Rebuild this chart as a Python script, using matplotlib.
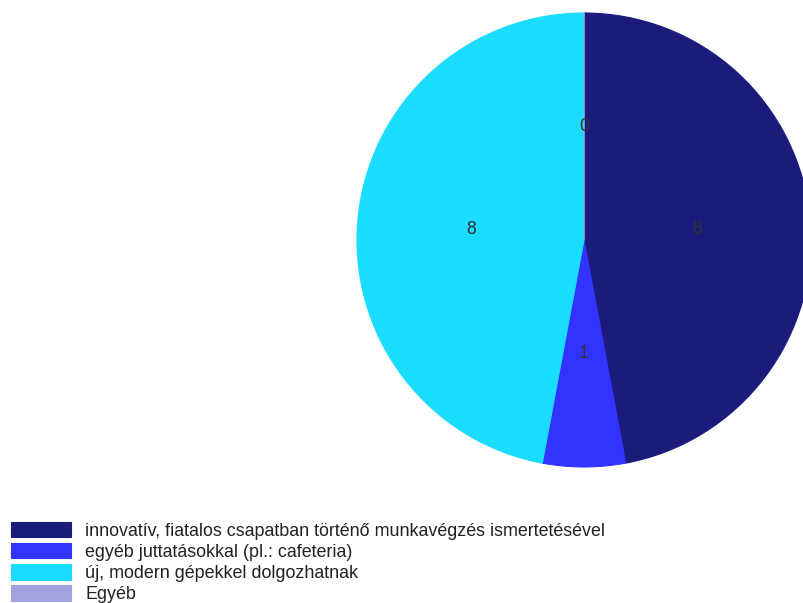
import matplotlib
matplotlib.use("Agg")
import matplotlib.pyplot as plt

labels = [
    "innovatív, fiatalos csapatban történő munkavégzés ismertetésével",
    "egyéb juttatásokkal (pl.: cafeteria)",
    "új, modern gépekkel dolgozhatnak",
    "Egyéb",
]
values = [8, 1, 8, 0]
colors = ["#1b1b7b", "#3333ff", "#1adcff", "#a3a3e0"]

plt.rcParams['font.family'] = ['Liberation Sans', 'DejaVu Sans']

W, H = 804, 603
fig = plt.figure(figsize=(W / 100, H / 100), dpi=100)

cx, cy, r = 584, 240, 227
ax = fig.add_axes([(cx - r) / W, (H - cy - r) / H, 2 * r / W, 2 * r / H])
wedges, texts = ax.pie(
    values, colors=colors, startangle=90, counterclock=False,
    labels=[str(v) for v in values], labeldistance=0.5,
    textprops=dict(color="#333333", fontsize=12.7, ha="center", va="center"),
    radius=1.0,
)
for w, c in zip(wedges, colors):
    w.set_edgecolor(c)
    w.set_linewidth(0.8)
ax.set_xlim(-1, 1)
ax.set_ylim(-1, 1)
ax.set_aspect('equal')
ax.axis('off')

fs = 12.85
leg = fig.legend(
    wedges, labels, loc="lower left",
    bbox_to_anchor=(11 / W, 0 / H), bbox_transform=fig.transFigure,
    frameon=False, fontsize=fs, handlelength=3.35, handleheight=0.95,
    handletextpad=0.8, labelspacing=0.18, borderpad=0, borderaxespad=0,
)
for t in leg.get_texts():
    t.set_color("#222222")

fig.savefig("out.png", dpi=100)
